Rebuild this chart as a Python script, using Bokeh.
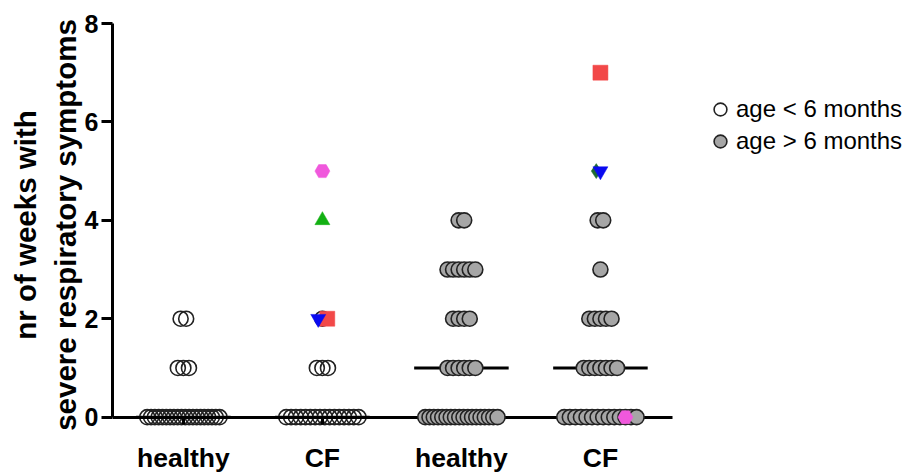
import numpy as np
from bokeh.plotting import figure
from bokeh.models import Range1d, FixedTicker, Legend, LegendItem, ColumnDataSource, LinearAxis
from bokeh.embed import file_html
from bokeh.resources import INLINE

# ---------------- data ----------------
categories = ["healthy", "CF", "healthy", "CF"]
cat_pos = [1, 2, 3, 4]
week_values = [0, 1, 2, 3, 4]
# number of patients (plain circles) per number of weeks
young_healthy_counts = [20, 3, 2, 0, 0]
young_cf_counts = [16, 3, 1, 0, 0]
old_healthy_counts = [18, 6, 4, 6, 2]
old_cf_counts = [14, 7, 5, 1, 2]
medians = [0, 0, 1, 1]

# individually highlighted patients
special_group = [2, 2, 2, 2, 4, 4, 4, 4]
special_weeks = [2, 2, 4, 5, 0, 5, 5, 7]
special_marker = ["square", "inverted_triangle", "triangle", "hex", "hex", "diamond", "inverted_triangle", "square"]
special_color = ["#F24848", "#0A0AF0", "#12B012", "#F058DC", "#F058DC", "#1E6B32", "#0A0AF0", "#F24848"]
special_jitter = [0.035, -0.03, 0.0, 0.0, 0.18, -0.03, 0.0, 0.0]

# ---------------- layout helpers ----------------
STEP = 0.04
MAX_HALF = 0.26


def row_offsets(n):
    if n <= 1:
        return [0.0] * n
    half = min((n - 1) * STEP / 2, MAX_HALF)
    return list(np.linspace(-half, half, n))


def build(groups_counts):
    xs, ys = [], []
    for pos, counts in groups_counts:
        for wk, n in zip(week_values, counts):
            for off in row_offsets(n):
                xs.append(pos + off)
                ys.append(wk)
    return xs, ys


ox, oy = build([(cat_pos[0], young_healthy_counts), (cat_pos[1], young_cf_counts)])
gx, gy = build([(cat_pos[2], old_healthy_counts), (cat_pos[3], old_cf_counts)])

FONT = "Liberation Sans"
X_START, X_AXIS_END = 0.49, 4.52

p = figure(width=907, height=476,
           x_range=Range1d(X_START, 6.209), y_range=Range1d(-0.19, 8.0),
           output_backend="svg", toolbar_location=None,
           min_border_left=112, min_border_right=0,
           min_border_top=23, min_border_bottom=50)
p.grid.visible = False
p.outline_line_color = None

# medians
p.segment(x0=[c - 0.34 for c in cat_pos], x1=[c + 0.34 for c in cat_pos],
          y0=medians, y1=medians, line_color="black", line_width=3)

r_open = p.scatter(ox, oy, marker="circle", size=15, fill_alpha=0,
                   line_color="#222222", line_width=1.6)
r_grey = p.scatter(gx, gy, marker="circle", size=15, fill_color="#A6A6A6",
                   line_color="#222222", line_width=1.6, level="overlay")

sp = ColumnDataSource(dict(
    x=[cat_pos[g - 1] + j for g, j in zip(special_group, special_jitter)],
    y=special_weeks, m=special_marker, c=special_color))
p.scatter("x", "y", marker="m", fill_color="c", line_color="c", size=15,
          line_width=0.5, source=sp, level="overlay")

# category labels (bottom axis without line / ticks)
xa = p.xaxis[0]
xa.ticker = FixedTicker(ticks=cat_pos)
xa.major_label_overrides = {c: l for c, l in zip(cat_pos, categories)}
xa.axis_line_color = None
xa.major_tick_line_color = None
xa.minor_tick_line_color = None
xa.major_label_standoff = 10
xa.major_label_text_font = FONT
xa.major_label_text_font_style = "bold"
xa.major_label_text_font_size = "26.5px"
xa.major_label_text_color = "black"

# x axis line at y = 0
xl = LinearAxis(fixed_location=0, bounds=(X_START, X_AXIS_END),
                ticker=FixedTicker(ticks=cat_pos),
                axis_line_width=3, major_tick_line_width=3,
                major_tick_out=7, major_tick_in=0,
                minor_tick_line_color=None, major_label_text_color=None)
p.add_layout(xl, "below")

# y axis
ya = p.yaxis[0]
ya.bounds = (0, 8)
ya.ticker = FixedTicker(ticks=[0, 2, 4, 6, 8])
ya.axis_line_width = 3
ya.major_tick_line_width = 3
ya.major_tick_out = 11
ya.major_tick_in = 0
ya.minor_tick_line_color = None
ya.major_label_standoff = 3
ya.major_label_text_font = FONT
ya.major_label_text_font_style = "bold"
ya.major_label_text_font_size = "25px"
ya.major_label_text_color = "black"
ya.axis_label = "nr of weeks with\nsevere respiratory symptoms"
ya.axis_label_text_font = FONT
ya.axis_label_text_font_style = "bold"
ya.axis_label_text_font_size = "29.5px"
ya.axis_label_text_color = "black"
ya.axis_label_standoff = 0

legend = Legend(items=[LegendItem(label="age < 6 months", renderers=[r_open]),
                       LegendItem(label="age > 6 months", renderers=[r_grey])],
                location=(592, 269), border_line_color=None, background_fill_alpha=0,
                padding=0, margin=0, glyph_width=32, glyph_height=32, spacing=0,
                label_standoff=0, label_text_font=FONT, label_text_font_size="24px",
                label_text_color="black")
p.add_layout(legend, "center")

open("out.html", "w").write(file_html(p, INLINE))
